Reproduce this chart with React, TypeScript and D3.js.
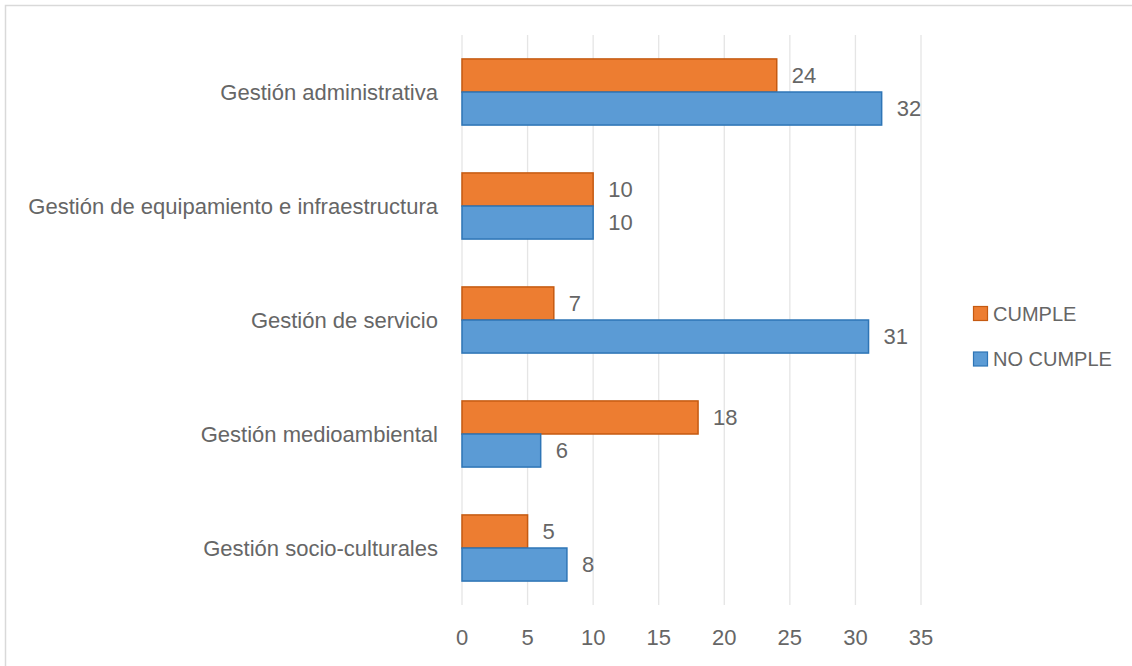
import React from "react";
import * as d3 from "d3";

const categories = [
  "Gestión administrativa",
  "Gestión de equipamiento e infraestructura",
  "Gestión de servicio",
  "Gestión medioambiental",
  "Gestión socio-culturales",
];
const seriesNames = ["CUMPLE", "NO CUMPLE"];
const cumple = [24, 10, 7, 18, 5];
const noCumple = [32, 10, 31, 6, 8];
const xTicks = [0, 5, 10, 15, 20, 25, 30, 35];

const fills = ["#ED7D31", "#5B9BD5"];
const strokes = ["#C55A11", "#2E75B6"];
const FONT = "'Liberation Sans', Arial, sans-serif";
const TEXT = "#666666";

export default function App() {
  const W = 1132, H = 666;
  const x = d3.scaleLinear().domain([0, 35]).range([462, 921]);
  const y = d3.scaleBand<string>().domain(categories).range([35, 605]).paddingInner(0.42).paddingOuter(0.21);
  const inner = d3.scaleBand<string>().domain(seriesNames).range([0, y.bandwidth()]);
  const values = [cumple, noCumple];

  return (
    <svg width={W} height={H} style={{ position: "absolute", left: 0, top: 0, background: "#fff" }} fontFamily={FONT}>
      <rect x={5.5} y={5.5} width={W + 10} height={H + 10} fill="#fff" stroke="#D9D9D9" strokeWidth={1.5} />
      {xTicks.map((t) => (
        <line key={t} x1={x(t)} x2={x(t)} y1={35} y2={605} stroke="#E5E5E5" strokeWidth={1.3} />
      ))}
      {xTicks.map((t) => (
        <text key={"t" + t} x={x(t)} y={645} textAnchor="middle" fontSize={22} fill={TEXT}>
          {t}
        </text>
      ))}
      {categories.map((c) => (
        <text key={c} x={438} y={(y(c) ?? 0) + y.bandwidth() / 2} textAnchor="end" dominantBaseline="central" fontSize={22} fill={TEXT}>
          {c}
        </text>
      ))}
      {seriesNames.map((s, si) =>
        categories.map((c, ci) => {
          const v = values[si][ci];
          const y0 = (y(c) ?? 0) + (inner(s) ?? 0);
          const h = inner.bandwidth();
          return (
            <g key={s + c}>
              <rect x={x(0)} y={y0} width={x(v) - x(0)} height={h} fill={fills[si]} stroke={strokes[si]} strokeWidth={1.5} />
              <text x={x(v) + 15} y={y0 + h / 2} dominantBaseline="central" fontSize={22} fill={TEXT}>
                {v}
              </text>
            </g>
          );
        })
      )}
      {seriesNames.map((s, si) => {
        const cy = [313.5, 359][si];
        return (
          <g key={"lg" + s}>
            <rect x={973.5} y={cy - 7} width={14} height={14} fill={fills[si]} stroke={strokes[si]} strokeWidth={1.2} />
            <text x={993} y={cy} dominantBaseline="central" fontSize={20} fill={TEXT}>
              {s}
            </text>
          </g>
        );
      })}
    </svg>
  );
}
